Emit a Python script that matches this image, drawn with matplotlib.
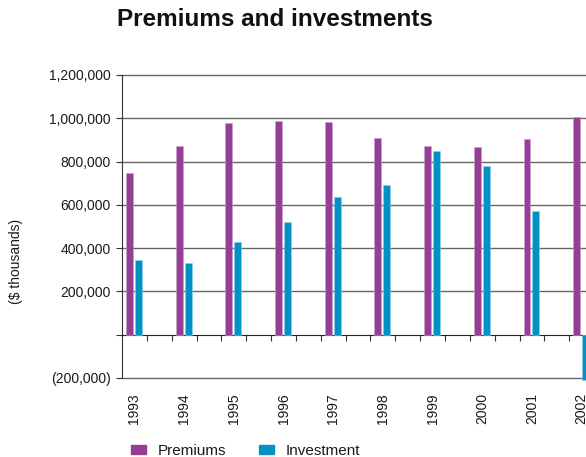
import numpy as np
import matplotlib.pyplot as plt
from matplotlib.patches import Patch

plt.rcParams['font.family'] = ['Liberation Sans', 'DejaVu Sans']

# data ($ thousands)
years = ['1993', '1994', '1995', '1996', '1997', '1998', '1999', '2000', '2001', '2002']
premiums = [749000, 871000, 977000, 988000, 985000, 909000, 871000, 865000, 905000, 1006000]
investment = [345000, 332000, 428000, 522000, 636000, 691000, 851000, 779000, 572000, -210000]
y_ticks = [-200000, 0, 200000, 400000, 600000, 800000, 1000000, 1200000]
y_labels = ['(200,000)', '', '200,000', '400,000', '600,000', '800,000', '1,000,000', '1,200,000']

purple = '#943e96'
blue = '#0092c4'
txt = '#1a1a1a'

fig = plt.figure(figsize=(5.86, 4.57), dpi=100)
# the plot runs past the right edge, as in the original clipping
ax = fig.add_axes([0.2082, 0.1729, 0.848, 0.663])

x = np.arange(len(years))
ax.bar(x + 0.08, premiums, width=0.14, align='edge', color=purple,
       edgecolor='#c9a0cc', linewidth=0.4, zorder=3)
ax.bar(x + 0.26, investment, width=0.14, align='edge', color=blue,
       edgecolor='#8fd0e8', linewidth=0.4, zorder=3, clip_on=False)

ax.set_xlim(0, 10)
ax.set_ylim(-200000, 1200000)
ax.set_yticks(y_ticks)
ax.set_yticklabels(y_labels, fontsize=10, color=txt)
ax.tick_params(axis='y', direction='out', length=4, width=0.8, color='#333333', pad=4)

for v in y_ticks:
    if v != 0:
        ax.axhline(v, color='#666666', lw=1.0, zorder=1, clip_on=False)

ax.spines['top'].set_visible(False)
ax.spines['right'].set_visible(False)
ax.spines['left'].set_color('#333333')
ax.spines['bottom'].set_position(('data', 0))
ax.spines['bottom'].set_color('#222222')

ax.set_xticks(np.concatenate([x + 0.5, x + 1.0]))
ax.set_xticklabels([])
ax.tick_params(axis='x', direction='out', length=4, width=0.8, color='#333333')

trans = ax.get_xaxis_transform()
for i, yr in enumerate(years):
    ax.text(i + 0.25, -0.05, yr, transform=trans, rotation=90, ha='center', va='top',
            fontsize=10, color=txt)

ax.set_ylabel('($ thousands)', fontsize=10, color=txt)
ax.yaxis.set_label_coords(-0.199, 0.386)

fig.text(117 / 586, 1 - 19 / 457, 'Premiums and investments', fontsize=17.5,
         fontweight='bold', ha='left', va='center', color='#111111')

handles = [Patch(color=purple, label='Premiums'), Patch(color=blue, label='Investment')]
fig.legend(handles=handles, loc='center left', bbox_to_anchor=(131 / 586, 1 - 451 / 457),
           ncol=2, frameon=False, fontsize=11, handlelength=1.0, handleheight=0.52,
           handletextpad=0.78, columnspacing=2.1, borderpad=0, borderaxespad=0,
           labelcolor=txt)

fig.savefig('out.png', dpi=100)
